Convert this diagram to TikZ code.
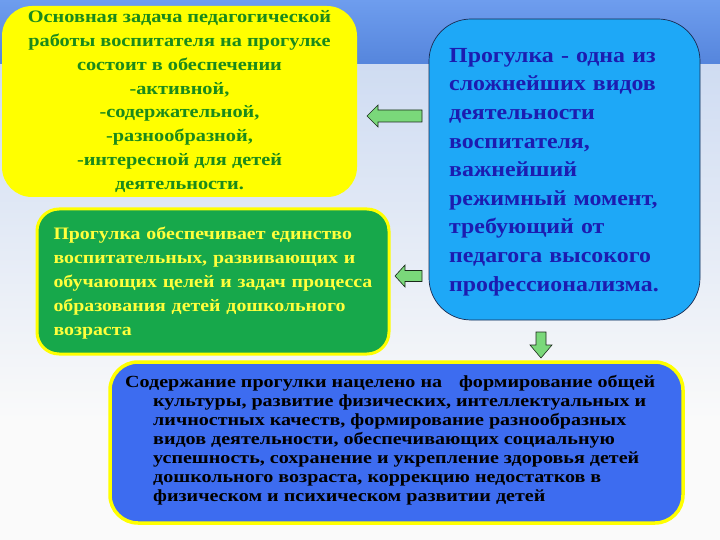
\documentclass[tikz,border=0pt]{standalone}
\usepackage{fontspec}
\setmainfont{Liberation Serif}
\newfontfamily\widea{Liberation Serif}[FakeStretch=1.11]
\newfontfamily\wideb{Liberation Serif}[FakeStretch=1.16]
\newfontfamily\wided{Liberation Serif}[FakeStretch=1.135]
\newfontfamily\widec{Liberation Serif}[FakeStretch=1.18]
\begin{document}
\begin{tikzpicture}[x=1pt,y=-1pt,
  taskbox/.style={fill=yellowfill, rounded corners=30pt, inner sep=0pt, align=center, text=taskgreen,
    font=\wideb\fontsize{17.5}{23.8}\selectfont\bfseries},
  unitybox/.style={fill=greenfill, draw=yellowfill, line width=3pt, rounded corners=22pt, inner sep=0pt, align=left, text=yellowtext,
    font=\wided\fontsize{17.5}{24}\selectfont\bfseries},
  walkbox/.style={fill=cyanfill, draw=borderdark, line width=0.7pt, rounded corners=42pt, inner sep=0pt},
  walktext/.style={inner sep=0pt, align=left, text=bluetext,
    font=\widea\fontsize{21.5}{28.6}\selectfont\bfseries},
  contentbox/.style={fill=bluefill, draw=yellowfill, line width=3.5pt, rounded corners=28pt, inner sep=0pt},
  contenttextstyle/.style={inner sep=0pt, align=left, text=black,
    font=\widec\fontsize{17}{19}\selectfont\bfseries},
  blockarrow/.style={fill=arrowgreen, draw=arrowdark, line width=0.6pt, line join=miter}
]
\definecolor{yellowfill}{HTML}{FFFF00}
\definecolor{taskgreen}{HTML}{1B8A1B}
\definecolor{greenfill}{HTML}{17A84B}
\definecolor{yellowtext}{HTML}{FFFF3C}
\definecolor{cyanfill}{HTML}{1EA8F7}
\definecolor{borderdark}{HTML}{1A2A50}
\definecolor{bluetext}{HTML}{1C1CB0}
\definecolor{bluefill}{HTML}{3D6CF0}
\definecolor{arrowgreen}{HTML}{7AD87A}
\definecolor{arrowdark}{HTML}{1A2A1A}
\definecolor{bgtopa}{HTML}{6E9DEE}
\definecolor{bgtopb}{HTML}{5585DC}
\definecolor{bglowa}{HTML}{CFDCF2}
\definecolor{bglowb}{HTML}{FAFAFA}
\useasboundingbox (0,0) rectangle (720,540);
% background
\shade[top color=bgtopa, bottom color=bgtopb] (0,0) rectangle (720,65);
\shade[top color=bglowa, bottom color=bglowb] (0,65) rectangle (720,420);
\fill[bglowb] (0,420) rectangle (720,540);

% boxes
\node[taskbox, minimum width=355pt, minimum height=191pt] (task) at (179.5,101.5)
  {Основная задача педагогической\\
   работы воспитателя на прогулке\\
   состоит в обеспечении\\
   -активной,\\
   -содержательной,\\
   -разнообразной,\\
   -интересной для детей\\
   деятельности.};

\node[unitybox, minimum width=352pt, minimum height=145pt] (unity) at (213,281.5) {};
\node[unitybox, draw=none, fill=none, anchor=west, text width=336pt] (unitytext) at (52,283)
  {Прогулка обеспечивает единство\\
   воспитательных, развивающих и\\
   обучающих целей и задач процесса\\
   образования детей дошкольного\\
   возраста};

\node[walkbox, minimum width=271pt, minimum height=301pt] (walk) at (564.5,169.5) {};
\node[walktext, anchor=west, text width=240pt] (walktxt) at (449,172)
  {Прогулка - одна из\\
   сложнейших видов\\
   деятельности\\
   воспитателя,\\
   важнейший\\
   режимный момент,\\
   требующий от\\
   педагога высокого\\
   профессионализма.};

\node[contentbox, minimum width=573pt, minimum height=161pt] (content) at (396.5,442.5) {};
\node[contenttextstyle, anchor=north west] (contenttext) at (125,375)
  {Содержание прогулки нацелено на\hspace{12pt} формирование общей\\
   \hspace*{28pt}культуры, развитие физических, интеллектуальных и\\
   \hspace*{28pt}личностных качеств, формирование разнообразных\\
   \hspace*{28pt}видов деятельности, обеспечивающих социальную\\
   \hspace*{28pt}успешность, сохранение и укрепление здоровья детей\\
   \hspace*{28pt}дошкольного возраста, коррекцию недостатков в\\
   \hspace*{28pt}физическом и психическом развитии детей};

% block arrows
\draw[blockarrow] (367,116) -- (378,105) -- (378,110) -- (422,110) -- (422,122) -- (378,122) -- (378,127) -- cycle;
\draw[blockarrow] (395,276) -- (405,265) -- (405,270.5) -- (422,270.5) -- (422,281.5) -- (405,281.5) -- (405,287) -- cycle;
\draw[blockarrow] (536,332) -- (546,332) -- (546,345) -- (552,345) -- (541,358) -- (530,345) -- (536,345) -- cycle;
\end{tikzpicture}
\end{document}
